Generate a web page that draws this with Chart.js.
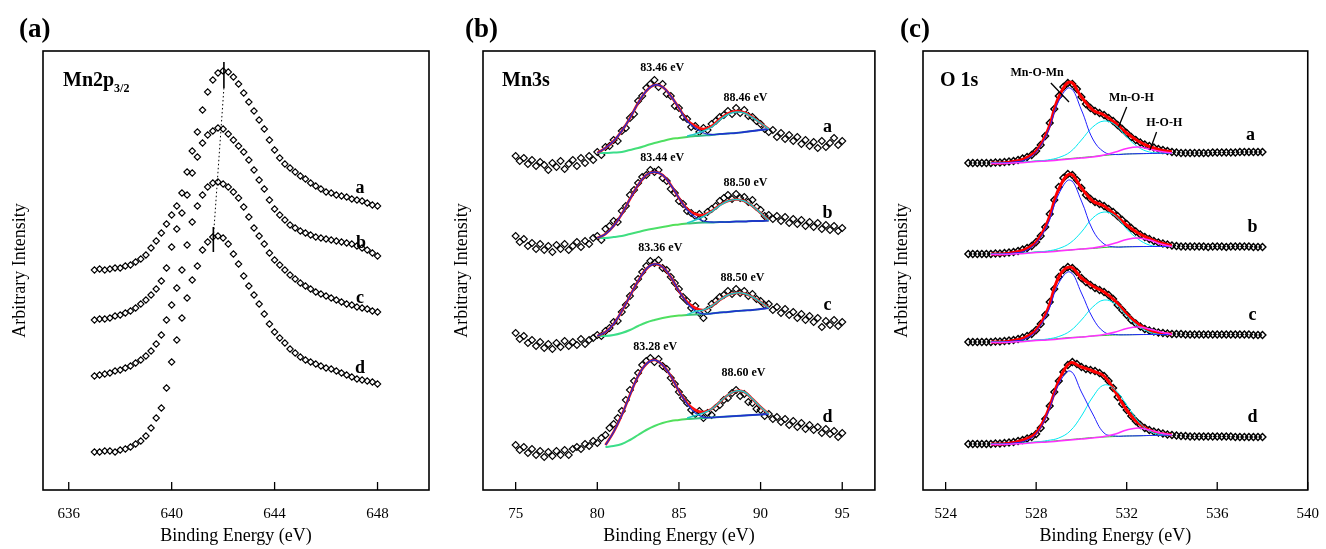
<!DOCTYPE html>
<html>
<head>
<meta charset="utf-8">
<script src="https://cdn.jsdelivr.net/npm/chart.js@4.4.1/dist/chart.umd.min.js"></script>
<style>
  html, body { margin: 0; padding: 0; background: #fff; }
  body { width: 1326px; height: 549px; position: relative; overflow: hidden; }
  canvas { position: absolute; top: 0; }
</style>
</head>
<body>
<canvas id="chartA" width="440" height="549" style="left:0px"></canvas>
<canvas id="chartB" width="440" height="549" style="left:440px"></canvas>
<canvas id="chartC" width="446" height="549" style="left:880px"></canvas>
<script>
const SERIF = '"Liberation Serif", "Times New Roman", serif';

// ---------- (a) Mn2p3/2 ----------
const mn2pEnergy = [637.0, 637.2, 637.4, 637.6, 637.8, 638.0, 638.2, 638.4, 638.6, 638.8,
  639.0, 639.2, 639.4, 639.6, 639.8, 640.0, 640.2, 640.4, 640.6, 640.8,
  641.0, 641.2, 641.4, 641.6, 641.8, 642.0, 642.2, 642.4, 642.6, 642.8,
  643.0, 643.2, 643.4, 643.6, 643.8, 644.0, 644.2, 644.4, 644.6, 644.8,
  645.0, 645.2, 645.4, 645.6, 645.8, 646.0, 646.2, 646.4, 646.6, 646.8,
  647.0, 647.2, 647.4, 647.6, 647.8, 648.0];
const mn2pA = [220, 221, 220, 221, 222, 222, 224, 225, 228, 231,
  235, 242, 249, 257, 266, 275, 284, 297, 318, 339,
  358, 380, 398, 410, 417, 419, 418, 413, 406, 397,
  388, 379, 370, 361, 350, 340, 332, 326, 322, 318,
  314, 311, 307, 304, 301, 298, 297, 295, 294, 293,
  291, 290, 289, 287, 285, 284];
const mn2pB = [170, 171, 171, 172, 174, 175, 177, 179, 182, 186,
  190, 195, 201, 209, 222, 243, 261, 277, 295, 317,
  333, 347, 355, 359, 362, 361, 356, 350, 344, 338,
  330, 320, 310, 301, 290, 281, 275, 270, 265, 262,
  259, 257, 255, 253, 252, 251, 250, 249, 248, 247,
  246, 244, 242, 240, 237, 234];
const mn2pC = [114, 115, 116, 117, 119, 120, 122, 124, 127, 130,
  134, 139, 146, 155, 170, 185, 202, 220, 245, 268,
  284, 295, 303, 307, 308, 306, 303, 298, 292, 283,
  273, 262, 254, 246, 237, 230, 225, 220, 215, 211,
  207, 204, 201, 198, 196, 194, 192, 190, 188, 186,
  185, 183, 182, 181, 179, 178];
const mn2pD = [38, 38, 39, 39, 38, 40, 41, 43, 46, 49,
  54, 62, 72, 82, 102, 128, 150, 172, 192, 210,
  224, 240, 248, 253, 254, 252, 246, 236, 226, 214,
  204, 195, 186, 176, 166, 158, 152, 147, 141, 137,
  133, 130, 128, 126, 124, 122, 121, 119, 117, 115,
  113, 111, 110, 109, 108, 106];
const mn2pTicks = [636, 640, 644, 648];
// dotted guide through the maxima and the two short peak markers
const peakGuideE = [642.03, 641.63];
const peakGuideI = [402, 256];
const markAE = [642.03, 642.03];
const markAI = [428, 402];
const markDE = [641.62, 641.62];
const markDI = [263, 238];

// ---------- (b) Mn3s ----------
const mn3sEnergy = [75, 75.25, 75.5, 75.75, 76, 76.25, 76.5, 76.75, 77, 77.25,
  77.5, 77.75, 78, 78.25, 78.5, 78.75, 79, 79.25, 79.5, 79.75,
  80, 80.25, 80.5, 80.75, 81, 81.25, 81.5, 81.75, 82, 82.25,
  82.5, 82.75, 83, 83.25, 83.5, 83.75, 84, 84.25, 84.5, 84.75,
  85, 85.25, 85.5, 85.75, 86, 86.25, 86.5, 86.75, 87, 87.25,
  87.5, 87.75, 88, 88.25, 88.5, 88.75, 89, 89.25, 89.5, 89.75,
  90, 90.25, 90.5, 90.75, 91, 91.25, 91.5, 91.75, 92, 92.25,
  92.5, 92.75, 93, 93.25, 93.5, 93.75, 94, 94.25, 94.5, 94.75, 95];
const mn3sA = [334, 329, 332, 326, 330, 324, 328, 325, 320, 327,
  323, 329, 321, 326, 330, 324, 332, 327, 334, 330,
  338, 335, 343, 344, 350, 349, 359, 362, 372, 376,
  389, 394, 402, 406, 410, 403, 406, 396, 394, 384,
  382, 373, 371, 363, 364, 358, 362, 360, 366, 369,
  373, 375, 379, 376, 382, 377, 380, 374, 373, 369,
  366, 361, 358, 360, 353, 357, 351, 355, 349, 353,
  346, 350, 344, 348, 342, 349, 343, 347, 352, 345, 349];
const mn3sB = [254, 248, 251, 244, 247, 241, 246, 240, 244, 238,
  245, 241, 246, 240, 244, 248, 243, 249, 246, 252,
  254, 250, 261, 264, 269, 268, 279, 284, 295, 300,
  307, 313, 315, 320, 318, 320, 312, 309, 301, 297,
  289, 286, 279, 277, 274, 276, 271, 278, 281, 284,
  289, 292, 295, 291, 296, 292, 293, 288, 290, 283,
  280, 274, 275, 271, 274, 269, 273, 267, 271, 266,
  270, 264, 268, 263, 267, 261, 265, 260, 264, 259, 262];
const mn3sC = [157, 151, 154, 147, 150, 144, 148, 142, 146, 141,
  147, 143, 149, 144, 148, 145, 151, 146, 150, 152,
  155, 154, 159, 162, 168, 169, 178, 185, 194, 203,
  211, 218, 224, 229, 227, 230, 222, 220, 213, 207,
  201, 193, 189, 182, 184, 177, 172, 180, 186, 189,
  193, 195, 199, 196, 201, 197, 199, 194, 196, 191,
  189, 185, 186, 180, 183, 177, 181, 175, 178, 172,
  176, 170, 174, 168, 172, 163, 169, 165, 170, 164, 168];
const mn3sD = [45, 40, 43, 37, 41, 35, 39, 33, 38, 34,
  39, 35, 40, 35, 41, 43, 41, 46, 44, 49,
  47, 52, 55, 62, 66, 72, 79, 90, 100, 109,
  117, 125, 129, 132, 128, 131, 124, 121, 112, 106,
  98, 92, 87, 80, 76, 79, 72, 77, 75, 82,
  85, 90, 92, 97, 100, 94, 96, 88, 87, 81,
  80, 74, 76, 71, 73, 68, 71, 65, 69, 63,
  67, 61, 65, 60, 63, 57, 61, 56, 59, 53, 57];
const mn3sFitE = [80, 80.5, 81, 81.5, 82, 82.5, 83, 83.5, 84, 84.5, 85,
  85.5, 86, 86.5, 87, 87.5, 88, 88.5, 89, 89.5, 90, 90.5];
const mn3sBgA = [337, 337, 337.5, 338, 340, 342, 344.5, 347, 349, 351, 352, 353, 354, 354.5, 355, 356, 356.5, 357, 358, 359, 360, 361];
const mn3sP1A = [337, 342, 349, 359, 372, 387, 399, 405, 403, 394, 382, 369, 362, 357, 355.5, 356, 356.5, 357, 358, 359, 360, 361];
const mn3sP2A = [null, null, null, null, null, null, null, null, null, null, null, 354, 356, 359, 363, 370, 375.5, 378, 377, 372.5, 367, 361];
const mn3sFitA = [337, 342, 349, 359, 372, 387, 399, 405, 403, 394, 382, 370, 364, 361, 364, 371, 376.5, 379, 377.5, 373, 367, 361];
const mn3sBgB = [252, 252, 253, 254, 256, 258, 260, 261.5, 263, 264.5, 265.5, 266.5, 267, 267.5, 267.5, 268, 268, 268.5, 268.5, 269, 269, 269.5];
const mn3sP1B = [252, 256, 264, 276, 291, 305, 315, 318, 315, 305, 292, 280, 273, 269, 268, 268, 268, 268.5, 268.5, 269, 269, 269.5];
const mn3sP2B = [null, null, null, null, null, null, null, null, null, null, null, 267, 270, 273.5, 278.5, 284.5, 289, 290.5, 289, 284, 277, 269.5];
const mn3sFitB = [252, 256, 264, 276, 291, 305, 315, 318, 315, 305, 292, 281, 276, 275, 279, 285, 289, 290.5, 289, 284, 277, 269.5];
const mn3sBgC = [154, 154, 155, 157, 160, 164, 167.5, 170, 172, 173.5, 174.5, 175, 175.5, 176, 176.5, 177.5, 178, 179, 179.5, 180, 181, 182];
const mn3sP1C = [154, 158, 166, 179, 194, 209, 221, 226, 223, 213, 199, 187, 179, 176, 176.5, 177.5, 178, 179, 179.5, 180, 181, 182];
const mn3sP2C = [null, null, null, null, null, null, null, null, null, null, null, 175.5, 178.5, 180, 184, 190, 195, 197, 196.5, 193, 188, 182];
const mn3sFitC = [154, 158, 166, 179, 194, 209, 221, 226, 223, 213, 199, 188, 182, 180, 184, 190, 195, 197, 196.5, 193, 188, 182];
const mn3sBgD = [null, 43, 44, 46, 50, 55, 60, 64, 67, 69, 70, 71, 71.5, 72, 72.5, 73, 73.5, 74, 74.5, 75, 75.5, 76];
const mn3sP1D = [null, 45, 58, 75, 95, 114, 126, 130, 125, 114, 99, 86, 77, 73, 72.5, 73, 73.5, 74, 74.5, 75, 75.5, 76];
const mn3sP2D = [null, null, null, null, null, null, null, null, null, null, null, 72, 74.5, 77, 81, 88, 95, 99, 98, 91, 83, 76];
const mn3sFitD = [null, 45, 58, 75, 95, 114, 126, 130, 125, 114, 99, 87, 80, 78, 81, 88, 95, 99, 98, 91, 83, 76];
const mn3sPeakLabels = ['83.46 eV', '88.46 eV', '83.44 eV', '88.50 eV', '83.36 eV', '88.50 eV', '83.28 eV', '88.60 eV'];
const mn3sTicks = [75, 80, 85, 90, 95];

// ---------- (c) O 1s ----------
const o1sEnergy = [525.0, 525.2, 525.4, 525.6, 525.8, 526.0, 526.2, 526.4, 526.6, 526.8,
  527.0, 527.2, 527.4, 527.6, 527.8, 528.0, 528.2, 528.4, 528.6, 528.8,
  529.0, 529.2, 529.4, 529.6, 529.8, 530.0, 530.2, 530.4, 530.6, 530.8,
  531.0, 531.2, 531.4, 531.6, 531.8, 532.0, 532.2, 532.4, 532.6, 532.8,
  533.0, 533.2, 533.4, 533.6, 533.8, 534.0, 534.2, 534.4, 534.6, 534.8,
  535.0, 535.2, 535.4, 535.6, 535.8, 536.0, 536.2, 536.4, 536.6, 536.8,
  537.0, 537.2, 537.4, 537.6, 537.8, 538.0];
const o1sA = [327, 327, 327, 327, 327, 327, 327.5, 327.5, 328, 328.5,
  329, 330, 331.5, 333, 335, 339, 345, 354, 367, 381,
  394, 403, 407, 406, 401, 393, 386, 382, 379, 377,
  375, 372, 369, 365, 361, 357, 353, 350, 347.5, 345.5,
  344, 342.5, 341, 340, 339, 338, 337.5, 337, 337, 337,
  337, 337, 337, 337, 337.5, 337.5, 337.5, 337.5, 337.5, 337.5,
  338, 338, 338, 338, 338, 338];
const o1sB = [236, 236, 236, 236, 236, 236, 236.5, 236.5, 237, 237.5,
  238, 239, 240.5, 242, 244, 248, 254, 263, 276, 290,
  303, 312, 316, 315, 310, 302, 295, 291, 288, 286,
  284, 281, 278, 274, 270, 266, 262, 258.5, 255.5, 253,
  251, 249, 247.5, 246.5, 245.5, 244.5, 244, 243.5, 243.5, 243.5,
  243.5, 243.5, 243.5, 243, 243.5, 243.5, 243.5, 243, 243.5, 243.5,
  243.5, 243.5, 243.5, 243, 243, 243];
const o1sC = [148, 148, 148, 148, 148, 148, 148.5, 148.5, 149, 149.5,
  150, 151, 152.5, 154, 156, 160, 166, 175, 188, 201,
  213, 220, 223, 222, 218, 212, 208, 205, 202, 200,
  198, 195, 191, 185, 180, 175, 170, 166.5, 163.5, 161,
  159.5, 158.5, 157.5, 157, 156.5, 156, 156, 156, 155.5, 155.5,
  155.5, 155.5, 155.5, 155.5, 155.5, 155.5, 155.5, 155.5, 155.5, 155.5,
  155.5, 155.5, 155.5, 155, 155, 155];
const o1sD = [46, 46, 46, 46, 46, 46, 46.5, 46.5, 47, 47.5,
  48, 49, 50, 51.5, 53, 56, 62, 71, 84, 98,
  109, 118, 125, 128, 126, 123, 121, 120, 119, 117,
  114, 109, 102, 93, 86, 80, 74, 69, 65, 62,
  60, 58.5, 57.5, 56.5, 55.5, 55, 54.5, 54, 54, 53.5,
  53.5, 53.5, 53.5, 53.5, 53.5, 53.5, 53.5, 53.5, 53.5, 53,
  53, 53, 53, 53, 53, 53];
const o1sFitE = [526, 526.5, 527, 527.5, 528, 528.5, 529, 529.5, 530, 530.5, 531, 531.5, 532, 532.5, 533, 533.5, 534];
const o1sBgA = [327, 327, 327.5, 328, 329, 329.5, 330.5, 331.5, 332.5, 333.5, 334.5, 335.5, 336, 336.3, 336.5, 336.8, 337];
const o1sMnOMnA = [327, 327, 328, 330, 338, 357, 389, 402, 380, 351, 338, 335.5, 336, 336.3, 336.5, 336.8, 337];
const o1sMnOHA = [327, 327, 327.5, 328, 329, 330, 332.5, 338, 350, 363, 369, 365, 353, 343, 338, 337, 337];
const o1sHOHA = [326.5, 326.5, 327, 327.5, 328.5, 329, 330, 331, 332, 333, 335, 338, 341.5, 343, 341, 338.5, 337];
const o1sFitA = [327, 327, 328.5, 331.5, 339, 359, 393, 408, 393, 380, 375, 367, 357, 349, 343.5, 340, 338];
const o1sBgB = [236, 236, 236.5, 237, 238, 238.5, 239.5, 240, 241, 241.5, 242.5, 243, 243.2, 243.4, 243.5, 243.5, 243.5];
const o1sMnOMnB = [236, 236, 237, 239, 247, 265, 296, 310, 289, 260, 246, 243, 243.2, 243.4, 243.5, 243.5, 243.5];
const o1sMnOHB = [236, 236, 236.5, 237, 238, 239, 241.5, 247, 258, 272, 278, 274, 261, 251, 245, 243.5, 243.5];
const o1sHOHB = [235.5, 235.5, 236, 236.5, 237.5, 238, 239, 240, 241, 242, 244, 247, 250.5, 252, 250, 246, 243.5];
const o1sFitB = [236, 236, 237.5, 240.5, 248, 268, 301, 316, 302, 289, 284, 275, 265, 257, 251.5, 247, 244.5];
const o1sBgC = [148, 148, 148.5, 149, 150, 150.5, 151.5, 152.5, 153, 154, 154.5, 155, 155.2, 155.4, 155.5, 155.5, 155.5];
const o1sMnOMnC = [148, 148, 149, 151, 159, 177, 207, 218, 197, 172, 158, 155.5, 155.2, 155.4, 155.5, 155.5, 155.5];
const o1sMnOHC = [148, 148, 148.5, 149, 150, 151, 153.5, 159, 170, 183, 190, 186, 174, 164, 158, 155.5, 155.5];
const o1sHOHC = [147.5, 147.5, 148, 148.5, 149.5, 150, 151, 152, 153, 154, 155.5, 158, 161.5, 163, 161, 158, 155.5];
const o1sFitC = [148, 148, 149.5, 152.5, 160, 180, 213, 223, 212, 204, 198, 189, 176, 166, 159.5, 157, 156];
const o1sBgD = [46, 46, 46.5, 47, 48, 48.5, 49.5, 50.5, 51.5, 52.5, 53, 53.5, 54, 54.2, 54.5, 54.7, 55];
const o1sMnOMnD = [46, 46, 47, 49, 56, 76, 106, 119, 98, 76, 57, 54, 54, 54.2, 54.5, 54.7, 55];
const o1sMnOHD = [46, 46, 46.5, 47, 48, 49.5, 52, 59, 74, 93, 105, 100, 85, 69, 59, 55.5, 55];
const o1sHOHD = [45.5, 45.5, 46, 46.5, 47.5, 48, 49, 50, 51, 52, 53.5, 56, 60, 62, 60, 57, 55];
const o1sFitD = [46, 46, 47.5, 50.5, 57, 78, 109, 127, 123, 119, 114, 98, 80, 67, 60, 56.5, 55];
// leader lines for the component names
const leadMnOMnE = [528.65, 529.45];
const leadMnOMnI = [407, 388];
const leadMnOHE = [532.0, 531.64];
const leadMnOHI = [383, 363];
const leadHOHE = [533.32, 533.03];
const leadHOHI = [358, 340];
const o1sTicks = [524, 528, 532, 536, 540];

// ---------- helpers ----------
function pts(xs, ys) {
  const out = [];
  xs.forEach((x, i) => { if (ys[i] !== null) out.push({ x: x, y: ys[i] }); });
  return out;
}

function diamonds(xs, ys, r, bw) {
  return {
    data: pts(xs, ys), showLine: false, pointStyle: 'rectRot', pointRadius: r,
    pointBorderColor: '#000', pointBorderWidth: bw || 1.1, pointBackgroundColor: 'rgba(0,0,0,0)', order: 10
  };
}

function curve(xs, ys, color, width, order, extra) {
  return Object.assign({
    data: pts(xs, ys), showLine: true, pointRadius: 0, borderColor: color, borderWidth: width,
    tension: 0.4, order: order, fill: false
  }, extra || {});
}

function shirleyGradient(context) {
  const chart = context.chart;
  if (!chart.chartArea) return '#44dd66';
  const x = chart.scales.x;
  const g = chart.ctx.createLinearGradient(x.getPixelForValue(80), 0, x.getPixelForValue(91), 0);
  g.addColorStop(0, '#33dd99');
  g.addColorStop(0.45, '#55e055');
  g.addColorStop(0.62, '#22aa99');
  g.addColorStop(1, '#1a3ab0');
  return g;
}

const framePlugin = {
  id: 'frameAndLabels',
  afterDatasetsDraw(chart, args, opts) {
    const { ctx, chartArea: a, scales: { x, y } } = chart;
    ctx.save();
    ctx.strokeStyle = '#000';
    ctx.lineWidth = 1.6;
    ctx.strokeRect(a.left, a.top, a.right - a.left, a.bottom - a.top);
    ctx.lineWidth = 1.3;
    x.ticks.forEach(t => {
      const px = x.getPixelForValue(t.value);
      ctx.beginPath();
      ctx.moveTo(px, a.bottom);
      ctx.lineTo(px, a.bottom - 8);
      ctx.stroke();
    });
    ctx.fillStyle = '#000';
    ctx.textAlign = 'center';
    ctx.textBaseline = 'middle';
    (opts.notes || []).forEach(n => {
      ctx.font = n.font;
      ctx.fillText(n.text, x.getPixelForValue(n.x), y.getPixelForValue(n.y));
    });
    // heading inside the frame
    ctx.textAlign = 'left';
    ctx.textBaseline = 'alphabetic';
    ctx.font = 'bold 20px ' + SERIF;
    ctx.fillText(opts.heading, a.left + opts.headingDx, a.top + 35);
    if (opts.sub) {
      const w = ctx.measureText(opts.heading).width;
      ctx.font = 'bold 12px ' + SERIF;
      ctx.fillText(opts.sub, a.left + opts.headingDx + w, a.top + 41);
    }
    // panel tag, in this canvas' own pixels
    ctx.font = 'bold 27px ' + SERIF;
    ctx.fillText(opts.tag, opts.tagX, 37);
    ctx.restore();
  }
};

function buildChart(id, o) {
  return new Chart(document.getElementById(id), {
    type: 'scatter',
    data: { datasets: o.datasets },
    options: {
      responsive: false,
      animation: false,
      devicePixelRatio: 1,
      events: [],
      layout: { padding: { top: 51, right: o.padRight, bottom: 0, left: 0 } },
      plugins: {
        legend: { display: false },
        tooltip: { enabled: false },
        frameAndLabels: { notes: o.notes, heading: o.heading, sub: o.sub, headingDx: o.headingDx, tag: o.tag, tagX: o.tagX }
      },
      scales: {
        x: {
          type: 'linear', min: o.xMin, max: o.xMax,
          afterBuildTicks: s => { s.ticks = o.ticks.map(v => ({ value: v })); },
          afterFit: s => { s.height = 59; },
          grid: { display: false },
          border: { display: false },
          ticks: { color: '#000', padding: 7, font: { family: SERIF, size: 15 } },
          title: { display: true, text: 'Binding Energy (eV)', color: '#000', font: { family: SERIF, size: 18 }, padding: { top: 0, bottom: 2 } }
        },
        y: {
          min: 0, max: 439,
          afterFit: s => { s.width = 43; },
          grid: { display: false },
          border: { display: false },
          ticks: { display: false },
          title: { display: true, text: 'Arbitrary Intensity', color: '#000', font: { family: SERIF, size: 18 }, padding: { top: o.yTitlePad, bottom: 0 } }
        }
      }
    },
    plugins: [framePlugin]
  });
}

const LETTER = 'bold 18px ' + SERIF;
const SMALL = 'bold 12px ' + SERIF;

// ---------- panel (a) ----------
buildChart('chartA', {
  xMin: 635, xMax: 650, ticks: mn2pTicks, padRight: 11, yTitlePad: 9,
  heading: 'Mn2p', sub: '3/2', headingDx: 20, tag: '(a)', tagX: 19,
  datasets: [
    diamonds(mn2pEnergy, mn2pA, 3.2),
    diamonds(mn2pEnergy, mn2pB, 3.2),
    diamonds(mn2pEnergy, mn2pC, 3.2),
    diamonds(mn2pEnergy, mn2pD, 3.2),
    curve(peakGuideE, peakGuideI, '#000', 1, 1, { tension: 0, borderDash: [1.5, 2.5] }),
    curve(markAE, markAI, '#000', 1.6, 1, { tension: 0 }),
    curve(markDE, markDI, '#000', 1.6, 1, { tension: 0 })
  ],
  notes: [
    { text: 'a', x: 647.32, y: 302, font: LETTER },
    { text: 'b', x: 647.36, y: 247, font: LETTER },
    { text: 'c', x: 647.32, y: 192, font: LETTER },
    { text: 'd', x: 647.32, y: 122, font: LETTER }
  ]
});

// ---------- panel (b) ----------
const mn3sSets = [];
[[mn3sA, mn3sBgA, mn3sP1A, mn3sP2A, mn3sFitA],
 [mn3sB, mn3sBgB, mn3sP1B, mn3sP2B, mn3sFitB],
 [mn3sC, mn3sBgC, mn3sP1C, mn3sP2C, mn3sFitC],
 [mn3sD, mn3sBgD, mn3sP1D, mn3sP2D, mn3sFitD]].forEach(s => {
  mn3sSets.push(diamonds(mn3sEnergy, s[0], 3.5));
  mn3sSets.push(curve(mn3sFitE, s[1], shirleyGradient, 2, 4));
  mn3sSets.push(curve(mn3sFitE, s[4], '#ff1010', 2.6, 3));
  mn3sSets.push(curve(mn3sFitE, s[2], '#2030d0', 1.3, 2));
  mn3sSets.push(curve(mn3sFitE, s[3], '#20c8c8', 1.5, 1));
});
buildChart('chartB', {
  xMin: 73, xMax: 97, ticks: mn3sTicks, padRight: 5, yTitlePad: 11,
  heading: 'Mn3s', headingDx: 19, tag: '(b)', tagX: 25,
  datasets: mn3sSets,
  notes: [
    { text: mn3sPeakLabels[0], x: 83.98, y: 422, font: SMALL },
    { text: mn3sPeakLabels[1], x: 89.07, y: 392, font: SMALL },
    { text: mn3sPeakLabels[2], x: 83.98, y: 332, font: SMALL },
    { text: mn3sPeakLabels[3], x: 89.07, y: 307, font: SMALL },
    { text: mn3sPeakLabels[4], x: 83.86, y: 242, font: SMALL },
    { text: mn3sPeakLabels[5], x: 88.89, y: 212, font: SMALL },
    { text: mn3sPeakLabels[6], x: 83.55, y: 143, font: SMALL },
    { text: mn3sPeakLabels[7], x: 88.95, y: 117, font: SMALL },
    { text: 'a', x: 94.1, y: 363, font: LETTER },
    { text: 'b', x: 94.1, y: 277, font: LETTER },
    { text: 'c', x: 94.1, y: 185, font: LETTER },
    { text: 'd', x: 94.1, y: 73, font: LETTER }
  ]
});

// ---------- panel (c) ----------
const o1sSets = [];
[[o1sA, o1sBgA, o1sMnOMnA, o1sMnOHA, o1sHOHA, o1sFitA],
 [o1sB, o1sBgB, o1sMnOMnB, o1sMnOHB, o1sHOHB, o1sFitB],
 [o1sC, o1sBgC, o1sMnOMnC, o1sMnOHC, o1sHOHC, o1sFitC],
 [o1sD, o1sBgD, o1sMnOMnD, o1sMnOHD, o1sHOHD, o1sFitD]].forEach(s => {
  o1sSets.push(diamonds(o1sEnergy, s[0], 3.4, 1.4));
  o1sSets.push(curve(o1sFitE, s[5], '#ff0000', 3, 6));
  o1sSets.push(curve(o1sFitE, s[1], '#33c033', 1, 5));
  o1sSets.push(curve(o1sFitE, s[2], '#2020ff', 1, 3));
  o1sSets.push(curve(o1sFitE, s[3], '#00e8f0', 1, 3));
  o1sSets.push(curve(o1sFitE, s[4], '#ff30ff', 1.5, 2));
});
o1sSets.push(curve(leadMnOMnE, leadMnOMnI, '#000', 1.3, 1, { tension: 0 }));
o1sSets.push(curve(leadMnOHE, leadMnOHI, '#000', 1.3, 1, { tension: 0 }));
o1sSets.push(curve(leadHOHE, leadHOHI, '#000', 1.3, 1, { tension: 0 }));
buildChart('chartC', {
  xMin: 523, xMax: 540, ticks: o1sTicks, padRight: 14, yTitlePad: 11,
  heading: 'O 1s', headingDx: 17, tag: '(c)', tagX: 20,
  datasets: o1sSets,
  notes: [
    { text: 'Mn-O-Mn', x: 528.04, y: 417, font: SMALL },
    { text: 'Mn-O-H', x: 532.21, y: 392, font: SMALL },
    { text: 'H-O-H', x: 533.66, y: 367, font: SMALL },
    { text: 'a', x: 537.47, y: 355, font: LETTER },
    { text: 'b', x: 537.56, y: 263, font: LETTER },
    { text: 'c', x: 537.56, y: 175, font: LETTER },
    { text: 'd', x: 537.56, y: 73, font: LETTER }
  ]
});
</script>
</body>
</html>
